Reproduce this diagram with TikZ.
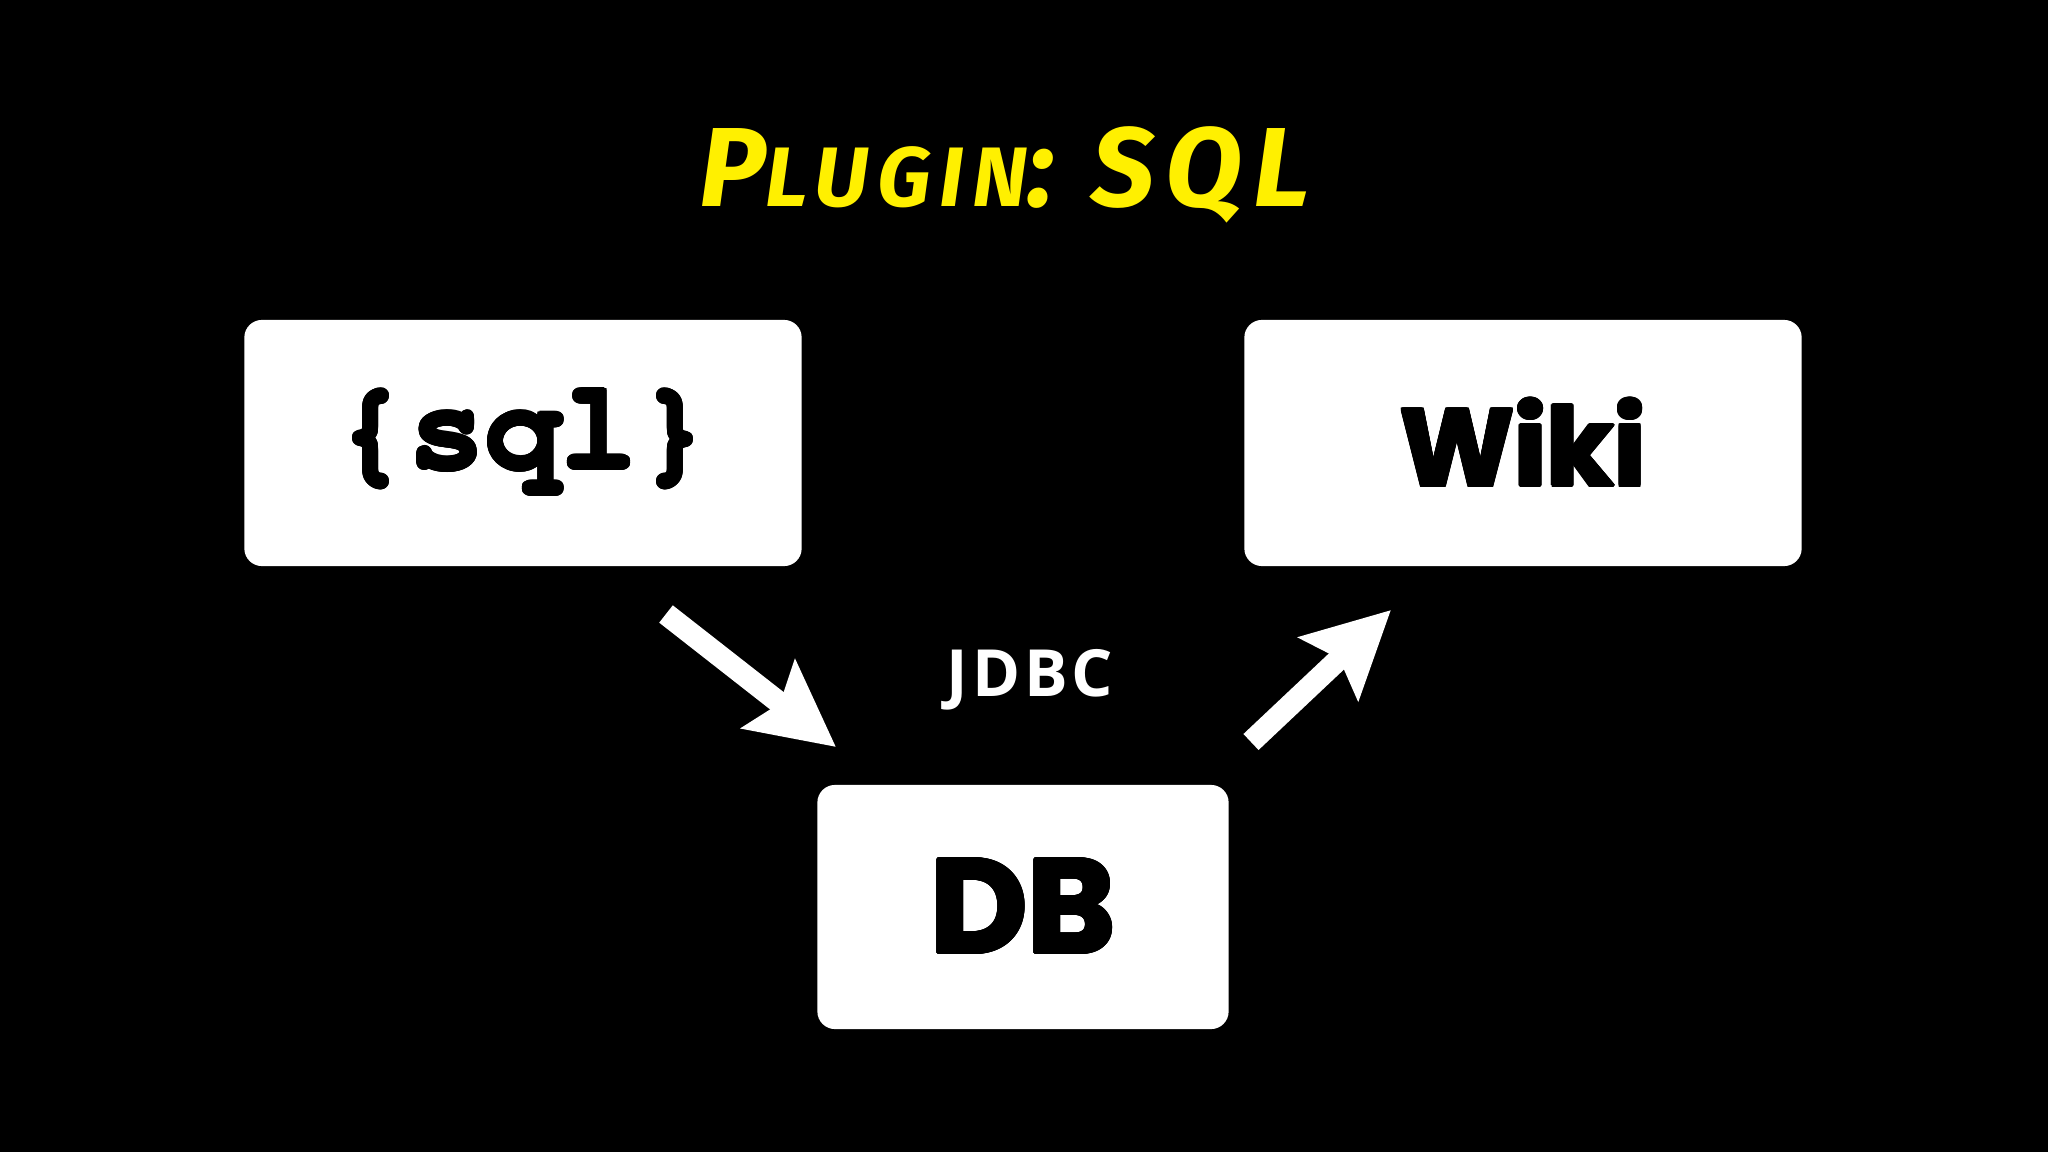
\documentclass[tikz,border=0pt]{standalone}
\usepackage{fontspec}
\usepackage{contour}
\usetikzlibrary{arrows.meta}
\newfontfamily\titlefont[LetterSpace=10]{Fira Sans}
\newfontfamily\codefont{TeX Gyre Cursor}
\newfontfamily\boxfont{Poppins}
\newfontfamily\labelfont[LetterSpace=6]{Open Sans}
\definecolor{titleyellow}{RGB}{255,240,0}
\contourlength{0.5pt}

\begin{document}
\begin{tikzpicture}[x=0.01cm,y=-0.01cm,>=Stealth]
\tikzset{
  box/.style={fill=white,rounded corners=5pt,inner sep=0pt,text=black},
  flow/.style={white,line width=0.22cm,
    -{Stealth[length=0.85cm,width=0.85cm,inset=0.14cm]}}
}
% background
\fill[black] (0,0) rectangle (2048,1152);
\useasboundingbox (0,0) rectangle (2048,1152);

% title
\node[anchor=base,text=titleyellow,font=\titlefont\bfseries\itshape] (title) at (1005,207)
  {\fontsize{32}{32}\selectfont P\fontsize{24}{24}\selectfont LUGIN\fontsize{32}{32}\selectfont: SQL};

% boxes
\node[box,minimum width=5.57cm,minimum height=2.46cm] (sql) at (523,443)
  {\codefont\bfseries\fontsize{36}{36}\selectfont \contour{black}{\{sql\}}};
\node[box,minimum width=5.57cm,minimum height=2.46cm] (wiki) at (1523,443)
  {\boxfont\bfseries\fontsize{31}{31}\selectfont \contour{black}{Wiki}};
\node[box,minimum width=4.11cm,minimum height=2.44cm] (db) at (1023,907)
  {\boxfont\bfseries\fontsize{38}{38}\selectfont \contour{black}{DB}};

\node[text=white,font=\labelfont\bfseries\fontsize{18.5}{18.5}\selectfont] (jdbc) at (1030,680) {JDBC};

% arrows
\coordinate (a1s) at (666,614);
\coordinate (a1e) at (836,747);
\coordinate (a2s) at (1251,742);
\coordinate (a2e) at (1391,610);
\draw[flow] (a1s) -- (a1e);
\draw[flow] (a2s) -- (a2e);
\end{tikzpicture}
\end{document}
